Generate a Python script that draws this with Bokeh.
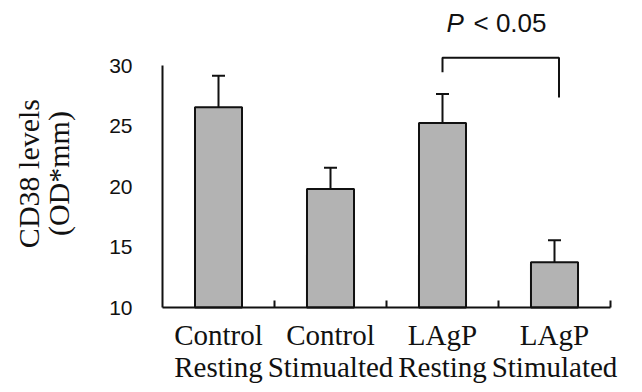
import math
from bokeh.plotting import figure
from bokeh.models import (ColumnDataSource, FixedTicker, Whisker, TeeHead, Range1d, Label,
                          LinearAxis)
from bokeh.core.properties import value
from bokeh.embed import file_html
from bokeh.resources import INLINE

# ---- data ----
categories = ["Control\nResting", "Control\nStimualted", "LAgP\nResting", "LAgP\nStimulated"]
means = [26.55, 19.8, 25.25, 13.75]
errors = [2.6, 1.75, 2.4, 1.8]
y_ticks = [10, 15, 20, 25, 30]
y_title = "CD38 levels\n(OD*mm)"
sig_pair = [2, 3]              # indices of compared groups
sig_text = ["P", "< 0.05"]
bracket_top = 30.65
bracket_leg_ends = [29.45, 27.35]
sig_label_y = 33.55

xs = [i + 0.5 for i in range(len(categories))]
boundaries = list(range(1, len(categories) + 1))
src = ColumnDataSource(dict(
    x=xs, top=means,
    upper=[m + e for m, e in zip(means, errors)],
    lower=[m - e for m, e in zip(means, errors)],
))

SERIF = "Liberation Serif"
SANS = "Liberation Sans"
INK = "#111111"
W, H = 642, 392
X0_PX, X_PX_PER_UNIT = 162, 112     # where x=0 sits, pixels per category
Y0_PX, Y_PX_PER_UNIT = 307, 12.1    # where y=10 sits, pixels per unit

p = figure(width=W, height=H, output_backend="svg", toolbar_location=None,
           x_range=Range1d(-X0_PX / X_PX_PER_UNIT, (W - X0_PX) / X_PX_PER_UNIT),
           y_range=Range1d(y_ticks[0] - (H - Y0_PX) / Y_PX_PER_UNIT, y_ticks[0] + Y0_PX / Y_PX_PER_UNIT),
           min_border_left=0, min_border_right=0, min_border_top=0, min_border_bottom=0)
p.outline_line_color = None
p.xgrid.visible = False
p.ygrid.visible = False
p.background_fill_color = "white"
p.border_fill_color = "white"

p.vbar(x="x", top="top", bottom=y_ticks[0], width=0.42, source=src,
       fill_color="#b3b3b3", line_color=INK, line_width=2)

w = Whisker(source=src, base="x", upper="upper", lower="lower",
            line_color=INK, line_width=2,
            upper_head=TeeHead(size=13, line_width=2, line_color=INK),
            lower_head=TeeHead(size=13, line_width=2, line_color=INK))
p.add_layout(w)

# significance bracket
x0, x1 = xs[sig_pair[0]], xs[sig_pair[1]] + 0.04
p.line(x=[x0, x0, x1, x1], y=[bracket_leg_ends[0], bracket_top, bracket_top, bracket_leg_ends[1]],
       line_color=INK, line_width=2)
xm = (xs[sig_pair[0]] + xs[sig_pair[1]]) / 2
p.text(x=[xm], y=[sig_label_y], text=[sig_text[0]], text_font=value(SANS), text_font_style="italic",
       text_font_size="26px", text_align="left", text_baseline="alphabetic",
       x_offset=-52, text_color=INK)
p.text(x=[xm], y=[sig_label_y], text=[sig_text[1]], text_font=value(SANS),
       text_font_size="26px", text_align="left", text_baseline="alphabetic",
       x_offset=-25, text_color=INK)

# x axis: line + inward ticks at category boundaries
xa = p.xaxis[0]
xa.fixed_location = y_ticks[0]
xa.bounds = (0, len(categories))
xa.ticker = FixedTicker(ticks=boundaries)
xa.major_label_overrides = {b: "" for b in boundaries}
xa.major_tick_in = 7
xa.major_tick_out = 0
xa.major_tick_line_width = 2
xa.major_tick_line_color = INK
xa.minor_tick_line_color = None
xa.axis_line_width = 2
xa.axis_line_color = INK

# x axis: category labels at bar centres
xl = LinearAxis(fixed_location=y_ticks[0], ticker=FixedTicker(ticks=xs),
                major_label_overrides={x: c for x, c in zip(xs, categories)},
                axis_line_color=None, major_tick_line_color=None, minor_tick_line_color=None,
                major_tick_in=0, major_tick_out=0,
                major_label_text_font=SERIF, major_label_text_font_size="29px",
                major_label_text_color=INK, major_label_text_line_height=1.0,
                major_label_standoff=11)
p.add_layout(xl, "below")

# y axis
ya = p.yaxis[0]
ya.fixed_location = 0
ya.ticker = FixedTicker(ticks=y_ticks)
ya.bounds = (y_ticks[0], y_ticks[-1])
ya.major_tick_in = 0
ya.major_tick_out = 0
ya.minor_tick_in = 0
ya.minor_tick_out = 0
ya.axis_line_width = 2
ya.axis_line_color = INK
ya.major_label_text_font = SANS
ya.major_label_text_font_size = "21px"
ya.major_label_text_color = INK
ya.major_label_standoff = 30

# y axis title (two lines, rotated)
title = Label(x=0, y=21.07, x_units="data", y_units="data", x_offset=-119,
              text=y_title, angle=math.pi / 2,
              text_font=SERIF, text_font_size="30px", text_color=INK,
              text_align="center", text_baseline="middle", text_line_height=0.92)
p.add_layout(title)

open("out.html", "w").write(file_html(p, INLINE))
